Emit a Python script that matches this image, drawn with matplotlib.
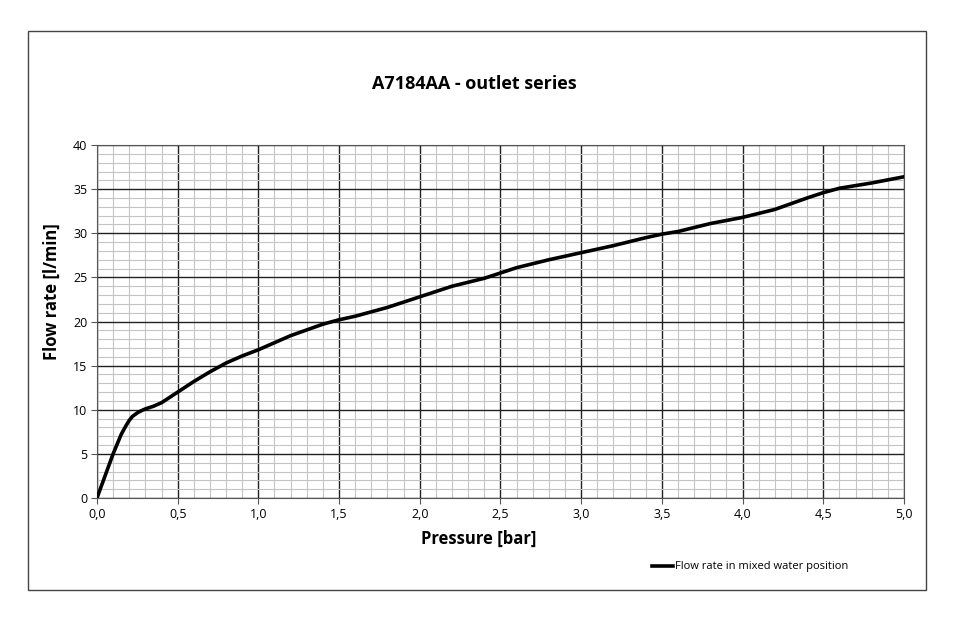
import matplotlib
matplotlib.use('Agg')

import matplotlib.pyplot as plt
import matplotlib.ticker as ticker
from matplotlib.patches import Rectangle
from matplotlib.lines import Line2D

# Data
pressure = [0.0, 0.05, 0.1, 0.15, 0.18, 0.2, 0.22, 0.25, 0.27, 0.3, 0.35, 0.4, 0.45,
            0.5, 0.6, 0.7, 0.8, 0.9, 1.0, 1.2, 1.4, 1.5, 1.6, 1.8, 2.0, 2.2, 2.4,
            2.5, 2.6, 2.8, 3.0, 3.2, 3.4, 3.5, 3.6, 3.8, 4.0, 4.2, 4.4, 4.5, 4.6,
            4.8, 5.0]
flow = [0.0, 2.5, 5.0, 7.2, 8.2, 8.8, 9.25, 9.65, 9.85, 10.1, 10.4, 10.8, 11.4,
        12.0, 13.2, 14.3, 15.3, 16.1, 16.8, 18.4, 19.7, 20.2, 20.6, 21.6, 22.8, 24.0, 24.9,
        25.5, 26.1, 27.0, 27.8, 28.6, 29.5, 29.9, 30.2, 31.1, 31.8, 32.7, 34.0, 34.6, 35.1,
        35.7, 36.4]

plt.rcParams['font.family'] = ['Open Sans', 'DejaVu Sans']

fig = plt.figure(figsize=(9.6, 6.27), dpi=100, facecolor='white')
ax = fig.add_axes([0.101, 0.2057, 0.8406, 0.563])

ax.plot(pressure, flow, color='black', linewidth=2.6, solid_capstyle='round',
        solid_joinstyle='round', zorder=3)

ax.set_xlim(0, 5)
ax.set_ylim(0, 40)
ax.xaxis.set_major_locator(ticker.MultipleLocator(0.5))
ax.xaxis.set_minor_locator(ticker.MultipleLocator(0.1))
ax.yaxis.set_major_locator(ticker.MultipleLocator(5))
ax.yaxis.set_minor_locator(ticker.MultipleLocator(1))
ax.xaxis.set_major_formatter(ticker.FuncFormatter(lambda v, _: f'{v:.1f}'.replace('.', ',')))
ax.yaxis.set_major_formatter(ticker.FuncFormatter(lambda v, _: f'{int(v)}'))

ax.grid(which='major', color='#222222', linewidth=1.0)
ax.grid(which='minor', color='#c4c4c4', linewidth=0.8)
ax.set_axisbelow(True)

ax.tick_params(which='major', length=4, color='#555555', labelsize=9, pad=3)
ax.tick_params(which='minor', length=0)
for s in ax.spines.values():
    s.set_color('#555555')
    s.set_linewidth(0.8)

ax.set_xlabel('Pressure [bar]', fontsize=12, fontweight='bold')
ax.set_ylabel('Flow rate [l/min]', fontsize=12, fontweight='bold')
ax.xaxis.set_label_coords(0.473, -0.09)
ax.yaxis.set_label_coords(-0.045, 0.584)

fig.text(0.494, 0.866, 'A7184AA - outlet series', ha='center', va='center',
         fontsize=13, fontweight='bold')

# Legend
fig.add_artist(Line2D([652 / 960, 673 / 960], [1 - 566 / 627, 1 - 566 / 627],
                      color='black', linewidth=2.6))
fig.text(675 / 960, 1 - 566 / 627, 'Flow rate in mixed water position',
         ha='left', va='center', fontsize=8)

# Outer frame
fig.add_artist(Rectangle((28 / 960, 1 - 590 / 627), 898 / 960, 559 / 627,
                         fill=False, edgecolor='#444444', linewidth=1.0,
                         transform=fig.transFigure))

plt.savefig('out.png', dpi=100, facecolor=fig.get_facecolor())
plt.close()
